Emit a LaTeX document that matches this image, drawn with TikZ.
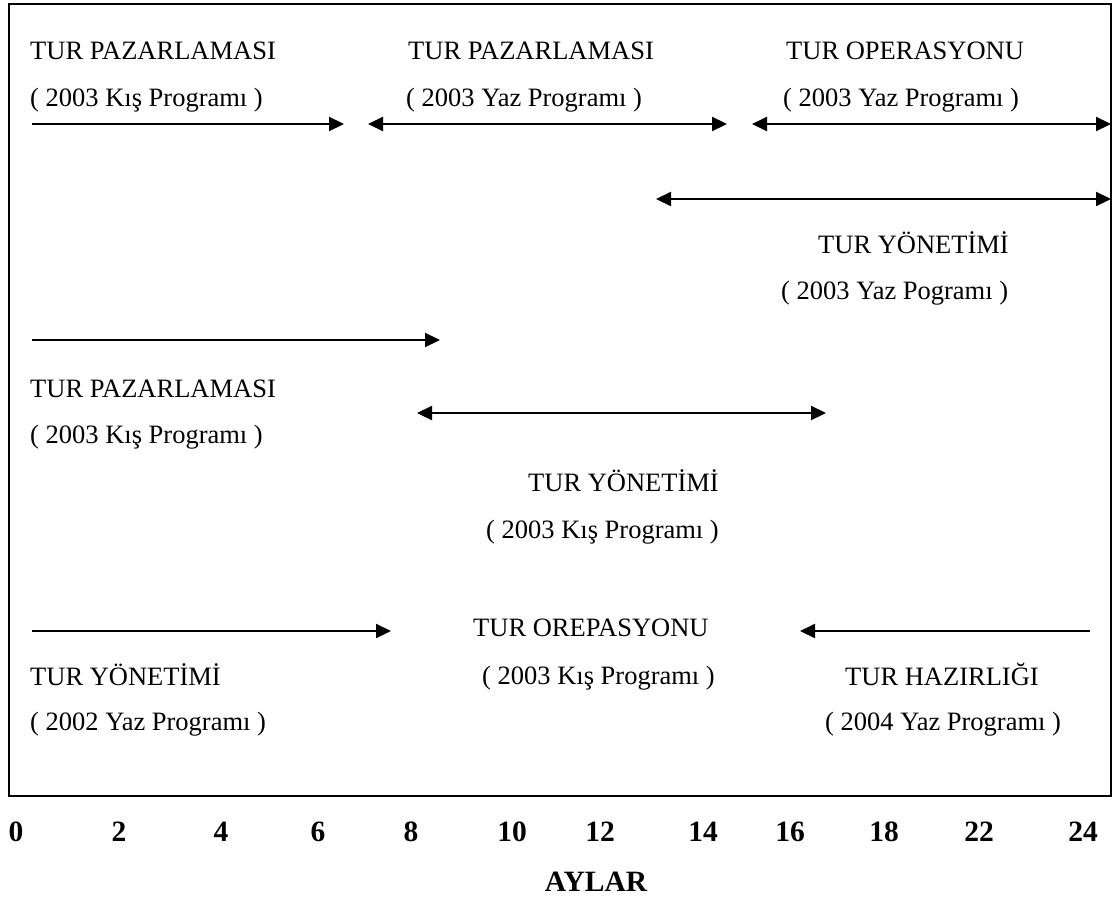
\documentclass[tikz,border=0pt]{standalone}
\usepackage{fontspec}
\setmainfont{Liberation Serif}
\usetikzlibrary{arrows.meta}
\begin{document}
\begin{tikzpicture}[x=1pt,y=-1pt,
  lbl/.style={inner sep=0pt,anchor=base west,font=\fontsize{26.5pt}{30pt}\selectfont},
  tick/.style={inner sep=0pt,anchor=base,font=\fontsize{29.5pt}{33pt}\selectfont\bfseries},
  span/.style={line width=2.2pt},
  tipR/.style={-{Triangle[length=15pt,width=14pt]}},
  tipL/.style={{Triangle[length=15pt,width=14pt]}-},
  tipLR/.style={{Triangle[length=15pt,width=14pt]}-{Triangle[length=15pt,width=14pt]}}]
\useasboundingbox (0,0) rectangle (1117,897);
% frame
\draw[line width=2pt] (9,4) rectangle (1111,796);

% row 1: marketing / operations
\node[lbl] (pz1) at (30,59) {TUR PAZARLAMASI};
\node[lbl] (pz1p) at (30,106) {( 2003 Kış Programı )};
\node[lbl] (pz2) at (408,59) {TUR PAZARLAMASI};
\node[lbl] (pz2p) at (406,106) {( 2003 Yaz Programı )};
\node[lbl] (op1) at (786,59) {TUR OPERASYONU};
\node[lbl] (op1p) at (783,106) {( 2003 Yaz Programı )};
\coordinate (a1s) at (32,124);   \coordinate (a1e) at (344,124);
\coordinate (a2s) at (368,124);  \coordinate (a2e) at (727,124);
\coordinate (a3s) at (752,124);  \coordinate (a3e) at (1111,124);
\draw[span,tipR] (a1s) -- (a1e);
\draw[span,tipLR] (a2s) -- (a2e);
\draw[span,tipLR] (a3s) -- (a3e);

% row 2: management, summer
\coordinate (b1s) at (656,199); \coordinate (b1e) at (1111,199);
\draw[span,tipLR] (b1s) -- (b1e);
\node[lbl] (yn1) at (818,253) {TUR YÖNETİMİ};
\node[lbl] (yn1p) at (781,299) {( 2003 Yaz Pogramı )};

% row 3: marketing / management, winter
\coordinate (c1s) at (32,340); \coordinate (c1e) at (440,340);
\draw[span,tipR] (c1s) -- (c1e);
\node[lbl] (pz3) at (30,397) {TUR PAZARLAMASI};
\node[lbl] (pz3p) at (30,443) {( 2003 Kış Programı )};
\coordinate (c2s) at (417,413); \coordinate (c2e) at (826,413);
\draw[span,tipLR] (c2s) -- (c2e);
\node[lbl] (yn2) at (528,491) {TUR YÖNETİMİ};
\node[lbl] (yn2p) at (486,538) {( 2003 Kış Programı )};

% row 4: management, operation, preparation
\coordinate (d1s) at (32,631); \coordinate (d1e) at (391,631);
\draw[span,tipR] (d1s) -- (d1e);
\node[lbl] (orp) at (473,636) {TUR OREPASYONU};
\coordinate (d2s) at (800,631); \coordinate (d2e) at (1090,631);
\draw[span,tipL] (d2s) -- (d2e);
\node[lbl] (yn3) at (30,685) {TUR YÖNETİMİ};
\node[lbl] (orpp) at (482,684) {( 2003 Kış Programı )};
\node[lbl] (hz) at (845,685) {TUR HAZIRLIĞI};
\node[lbl] (yn3p) at (30,730) {( 2002 Yaz Programı )};
\node[lbl] (hzp) at (825,730) {( 2004 Yaz Programı )};

% month axis
\node[tick] (m0) at (16,841) {0};
\node[tick] (m2) at (119,841) {2};
\node[tick] (m4) at (221,841) {4};
\node[tick] (m6) at (318,841) {6};
\node[tick] (m8) at (411,841) {8};
\node[tick] (m10) at (512,841) {10};
\node[tick] (m12) at (600,841) {12};
\node[tick] (m14) at (703,841) {14};
\node[tick] (m16) at (790,841) {16};
\node[tick] (m18) at (884,841) {18};
\node[tick] (m22) at (979,841) {22};
\node[tick] (m24) at (1083,841) {24};
\node[tick] (ay) at (596,891) {AYLAR};
\end{tikzpicture}
\end{document}
